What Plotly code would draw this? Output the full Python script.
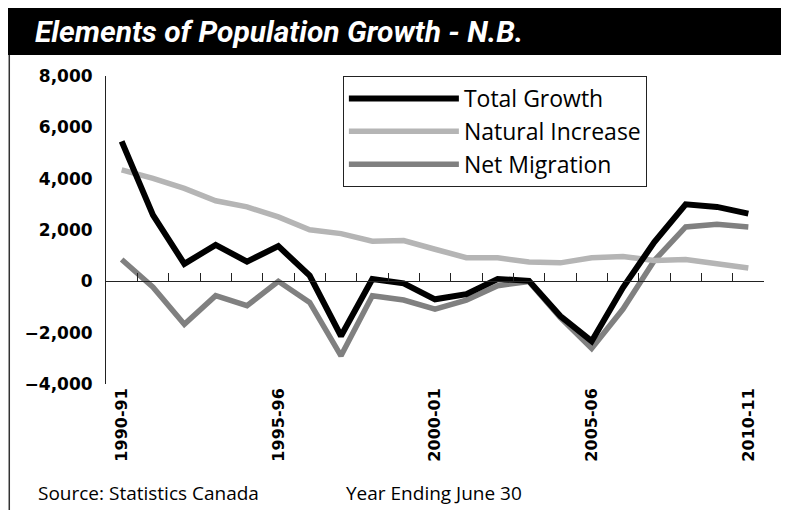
import plotly.graph_objects as go

# Data (persons, year ending June 30)
years = ["1990-91", "1991-92", "1992-93", "1993-94", "1994-95", "1995-96", "1996-97",
         "1997-98", "1998-99", "1999-00", "2000-01", "2001-02", "2002-03", "2003-04",
         "2004-05", "2005-06", "2006-07", "2007-08", "2008-09", "2009-10", "2010-11"]
total_growth = [5450, 2580, 680, 1420, 770, 1370, 220, -2130, 90, -80, -700,
                -500, 90, 20, -1350, -2330, -240, 1530, 3000, 2900, 2640]
natural_increase = [4340, 4010, 3620, 3140, 2900, 2510, 2010, 1860, 1560, 1590, 1250,
                    920, 920, 750, 720, 920, 970, 810, 850, 680, 520]
net_migration = [850, -230, -1670, -560, -950, 0, -820, -2900, -560, -730, -1080,
                 -730, -170, -10, -1410, -2610, -1080, 810, 2120, 2220, 2120]
label_years = years[::5]

# the page adds an 8px body margin, so the figure is drawn 8px smaller
W, H = 781, 502

fig = go.Figure()

for name, vals, color, width in [
    ('Net Migration', net_migration, '#808080', 5.5),
    ('Natural Increase', natural_increase, '#b5b5b5', 5.5),
    ('Total Growth', total_growth, '#000000', 6),
]:
    fig.add_trace(go.Scatter(
        x=years, y=vals, mode='lines', name=name,
        line=dict(color=color, width=width),
    ))

# empty trace so the zero-line axis (x2) gets drawn
fig.add_trace(go.Scatter(x=[], y=[], xaxis='x2', showlegend=False, hoverinfo='skip'))

fig.update_layout(xaxis2=dict(
    overlaying='x', anchor='free', position=4000 / 12000, range=[-0.5, 20.5],
    type='linear', tick0=0.5, dtick=1, ticks='inside', ticklen=8, tickwidth=1,
    tickcolor='#222', showline=True, linecolor='#222', linewidth=1,
    showticklabels=False, showgrid=False, zeroline=False, automargin=False,
))

fig.update_layout(
    width=W, height=H,
    margin=dict(l=98, r=25, t=68, b=126, autoexpand=False),
    paper_bgcolor='white', plot_bgcolor='white',
    showlegend=True,
    title=dict(text='<b><i>Elements of Population Growth - N.B.</i></b>',
               x=27 / W, xanchor='left', y=1 - 23 / H, yanchor='middle',
               font=dict(family='Roboto', size=30, color='white')),
    legend=dict(x=0.36, y=1.0, xanchor='left', yanchor='top', traceorder='reversed',
                bordercolor='#222', borderwidth=1, bgcolor='white',
                font=dict(family='Open Sans', size=23, color='black'),
                itemwidth=110),
    xaxis=dict(type='category', range=[-0.5, 20.5], tickvals=label_years,
               ticktext=label_years, tickangle=-90, ticks='', showline=False,
               showgrid=False, zeroline=False, automargin=False,
               tickfont=dict(family='DejaVu Sans', size=16, color='black', weight='bold')),
    yaxis=dict(range=[-4000, 8000], dtick=2000, tickformat=',', showline=True,
               linecolor='#222', linewidth=1, ticks='', showgrid=False, zeroline=False,
               ticklabelstandoff=9, automargin=False,
               tickfont=dict(family='DejaVu Sans', size=17, color='black', weight='bold')),
)

# title bar and left frame
fig.add_shape(type='rect', xref='paper', yref='paper', x0=-0.149, x1=1.05,
              y0=(384 - 55) / 308, y1=(384 - 0) / 308, fillcolor='black',
              line=dict(width=0), layer='below')
fig.add_shape(type='line', xref='paper', yref='paper', x0=-0.147, x1=-0.147,
              y0=-0.45, y1=(384 - 55) / 308, line=dict(color='#333', width=1.5))

fig.add_annotation(text='Source: Statistics Canada', xref='paper', yref='paper',
                   x=(36 - 106) / 658, y=(384 - 493) / 308, xanchor='left', yanchor='middle',
                   showarrow=False, font=dict(family='Open Sans', size=19, color='black'))
fig.add_annotation(text='Year Ending June 30', xref='paper', yref='paper',
                   x=(344 - 106) / 658, y=(384 - 493) / 308, xanchor='left', yanchor='middle',
                   showarrow=False, font=dict(family='Open Sans', size=19, color='black'))

fig.write_html("out.html")
